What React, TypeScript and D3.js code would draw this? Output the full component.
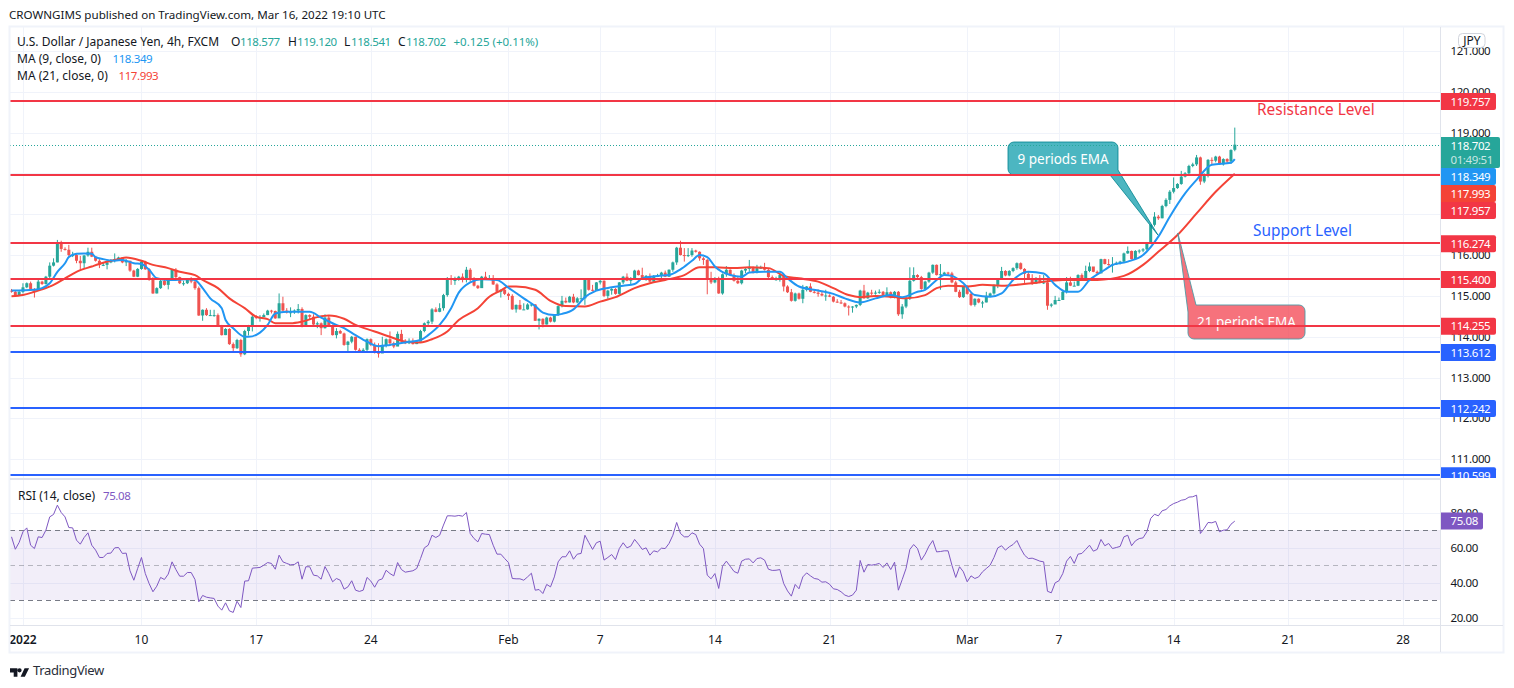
import * as d3 from "d3";

const WIDTH = 1514;
const HEIGHT = 688;
const FONT = "'Noto Sans', sans-serif";

// first open, then closes / highs / lows for each 4h bar
const firstOpen = 115.13;
const lastOpen = 118.577;
const closes = [
  115.10,115.02,115.10,115.21,115.31,115.17,115.13,115.35,115.29,115.47,
  115.74,115.82,116.29,116.15,116.13,116.00,116.00,115.86,115.80,115.99,
  116.08,115.96,115.86,115.76,115.76,115.82,115.86,115.90,115.94,115.82,
  115.86,115.62,115.47,115.66,115.84,115.65,115.39,115.06,115.19,115.37,
  115.27,115.39,115.64,115.46,115.31,115.31,115.39,115.35,115.19,114.52,
  114.66,114.53,114.53,114.53,114.26,114.04,114.19,113.82,113.72,113.92,
  113.57,114.14,114.26,114.49,114.47,114.48,114.53,114.64,114.63,114.45,
  114.82,114.64,114.59,114.60,114.64,114.68,114.25,114.53,114.49,114.30,
  114.33,114.21,114.47,114.26,114.04,114.14,114.08,113.80,113.88,114.00,
  113.68,113.64,113.68,113.94,113.80,113.61,113.59,113.78,113.94,113.84,
  113.76,114.07,113.90,113.84,113.90,113.82,113.88,114.14,114.33,114.37,
  114.67,114.61,114.70,115.02,115.43,115.39,115.39,115.47,115.41,115.64,
  115.41,115.25,115.19,115.47,115.41,115.43,115.28,115.10,115.15,115.05,
  115.00,114.67,114.78,114.67,114.67,114.79,114.79,114.39,114.44,114.30,
  114.47,114.37,114.53,114.75,114.88,114.84,114.98,114.84,114.94,114.94,
  115.39,115.15,115.13,115.33,115.37,115.00,115.13,115.17,115.05,115.33,
  115.47,115.37,115.43,115.62,115.51,115.41,115.49,115.35,115.49,115.49,
  115.57,115.47,115.64,115.82,116.18,116.00,115.98,116.00,116.11,116.08,
  115.92,115.88,115.39,115.33,115.43,115.06,115.53,115.64,115.51,115.37,
  115.31,115.62,115.66,115.70,115.57,115.68,115.69,115.64,115.46,115.41,
  115.41,115.51,115.23,115.09,114.88,115.06,114.93,115.15,115.23,115.10,
  115.08,115.05,115.01,115.01,114.98,114.86,114.84,114.82,114.74,114.72,
  114.74,114.78,115.13,114.94,115.08,115.06,115.08,115.10,114.98,115.09,
  114.96,115.10,114.55,114.74,114.94,115.37,115.51,115.46,115.17,115.35,
  115.57,115.76,115.51,115.53,115.57,115.55,115.33,115.10,114.97,115.23,
  115.05,114.78,114.93,114.84,114.84,115.00,115.06,115.27,115.41,115.61,
  115.50,115.61,115.68,115.80,115.66,115.54,115.43,115.31,115.39,115.33,
  115.33,114.76,114.79,114.90,114.90,115.10,115.33,115.25,115.25,115.51,
  115.41,115.61,115.72,115.59,115.55,115.90,115.78,115.76,115.77,115.81,
  115.84,116.04,116.10,115.90,116.10,116.11,116.14,116.30,116.74,116.94,
  116.90,117.20,117.35,117.55,117.64,117.74,117.92,118.00,118.18,118.22,
  118.39,117.80,117.96,118.33,118.31,118.41,118.22,118.35,118.29,118.57,
  118.702,
];
const highs = [
  115.17,115.12,115.13,115.31,115.33,115.35,115.19,115.39,115.37,115.49,
  115.82,115.92,116.37,116.35,116.19,116.25,116.08,116.04,115.98,116.00,
  116.18,116.18,115.96,115.90,115.82,115.86,115.90,116.04,115.96,115.95,
  115.90,115.86,115.64,115.68,115.86,115.86,115.68,115.46,115.21,115.39,
  115.39,115.41,115.65,115.68,115.47,115.37,115.41,115.46,115.39,115.23,
  114.67,114.70,114.66,114.66,114.57,114.29,114.21,114.21,113.86,113.95,
  113.95,114.17,114.29,114.53,114.53,114.53,114.57,114.66,114.66,114.64,
  115.06,114.98,114.70,114.72,114.67,114.80,114.72,114.55,114.55,114.55,
  114.37,114.35,114.55,114.51,114.30,114.21,114.17,114.10,113.90,114.02,
  114.00,113.72,113.72,113.96,113.96,113.86,113.84,114.00,113.96,114.13,
  113.88,114.13,114.17,113.94,113.96,113.96,113.92,114.17,114.35,114.41,
  114.70,114.72,114.82,115.05,115.46,115.51,115.47,115.49,115.55,115.71,
  115.68,115.46,115.27,115.49,115.59,115.51,115.51,115.31,115.16,115.19,
  115.08,115.04,114.79,114.90,114.82,114.82,114.82,114.80,114.45,114.45,
  114.49,114.49,114.55,114.77,115.00,114.96,115.00,115.05,114.97,115.16,
  115.41,115.41,115.27,115.34,115.39,115.38,115.15,115.19,115.19,115.34,
  115.49,115.55,115.46,115.64,115.64,115.69,115.51,115.55,115.51,115.54,
  115.59,115.62,115.65,115.84,116.20,116.35,116.17,116.17,116.17,116.13,
  116.09,115.95,115.91,115.59,115.46,115.47,115.55,115.73,115.65,115.55,
  115.47,115.64,115.68,115.88,115.72,115.76,115.74,115.81,115.67,115.50,
  115.47,115.55,115.53,115.26,115.17,115.08,115.08,115.27,115.24,115.31,
  115.16,115.16,115.12,115.15,115.04,115.00,114.92,114.90,114.84,114.77,
  114.75,114.79,115.15,115.27,115.10,115.15,115.13,115.16,115.12,115.21,
  115.11,115.12,115.12,114.80,114.98,115.70,115.70,115.53,115.49,115.37,
  115.59,115.77,115.77,115.78,115.59,115.59,115.59,115.37,115.15,115.24,
  115.26,115.08,114.94,114.94,114.88,115.10,115.08,115.28,115.43,115.71,
  115.63,115.63,115.70,115.82,115.82,115.68,115.59,115.53,115.46,115.51,
  115.51,115.44,114.82,115.00,114.96,115.12,115.46,115.47,115.35,115.53,
  115.55,115.74,115.82,115.69,115.62,115.91,115.91,115.90,115.95,115.84,
  115.86,116.06,116.21,116.11,116.12,116.14,116.17,116.32,116.75,117.05,
  116.98,117.23,117.39,117.59,117.90,117.76,118.06,118.03,118.21,118.26,
  118.45,118.41,118.00,118.35,118.39,118.43,118.43,118.37,118.37,118.59,
  119.12,
];
const lows = [
  115.08,115.00,115.01,115.06,115.19,115.15,114.96,115.15,115.27,115.28,
  115.41,115.72,115.82,116.08,116.11,115.96,115.95,115.80,115.64,115.68,
  115.96,115.95,115.84,115.68,115.73,115.65,115.80,115.82,115.86,115.80,
  115.73,115.59,115.46,115.46,115.64,115.64,115.37,115.05,115.06,115.17,
  115.25,115.16,115.37,115.43,115.29,115.25,115.29,115.31,115.15,114.51,
  114.39,114.51,114.51,114.49,114.25,114.03,114.04,113.80,113.65,113.70,
  113.51,113.55,114.03,114.13,114.43,114.37,114.48,114.53,114.57,114.44,
  114.47,114.62,114.57,114.48,114.56,114.57,114.23,114.25,114.41,114.29,
  114.21,114.04,114.20,114.25,114.03,113.96,114.07,113.78,113.65,113.84,
  113.66,113.62,113.62,113.62,113.77,113.59,113.49,113.62,113.74,113.82,
  113.72,113.78,113.89,113.82,113.82,113.81,113.82,113.89,114.11,114.25,
  114.31,114.60,114.60,114.64,114.98,115.27,115.27,115.37,115.33,115.33,
  115.35,115.23,115.17,115.25,115.39,115.39,115.27,115.09,114.96,115.02,
  114.90,114.66,114.59,114.66,114.66,114.66,114.74,114.39,114.18,114.23,
  114.30,114.35,114.35,114.51,114.72,114.82,114.84,114.82,114.82,114.92,
  114.78,115.13,115.11,115.17,115.28,114.97,114.93,115.03,115.03,115.03,
  115.29,115.36,115.28,115.39,115.50,115.39,115.37,115.33,115.33,115.46,
  115.39,115.46,115.47,115.59,115.76,115.99,115.84,115.95,115.96,116.06,
  115.86,115.76,115.04,115.29,115.31,115.05,115.03,115.47,115.50,115.35,
  115.29,115.28,115.56,115.59,115.55,115.55,115.66,115.62,115.44,115.40,
  115.37,115.35,115.11,115.07,114.86,114.86,114.91,114.82,115.11,115.09,
  115.06,114.98,114.99,114.88,114.97,114.84,114.83,114.80,114.72,114.52,
  114.59,114.70,114.75,114.93,114.93,115.01,115.03,115.05,114.97,114.98,
  114.94,114.94,114.51,114.44,114.70,114.90,115.35,115.44,115.15,115.15,
  115.32,115.54,115.50,115.15,115.50,115.50,115.31,115.09,114.95,114.95,
  115.03,114.75,114.74,114.82,114.71,114.84,114.98,115.03,115.19,115.40,
  115.48,115.48,115.58,115.64,115.64,115.31,115.41,115.27,115.29,115.31,
  115.29,114.66,114.72,114.88,114.88,114.90,115.06,115.24,115.24,115.24,
  115.40,115.46,115.58,115.58,115.54,115.57,115.77,115.74,115.57,115.76,
  115.77,115.80,116.03,115.89,115.90,116.04,116.07,116.11,116.27,116.70,
  116.86,116.90,117.17,117.25,117.51,117.62,117.72,117.90,117.96,118.15,
  118.18,117.72,117.76,117.90,118.23,118.27,118.21,118.19,118.23,118.23,
  118.541,
];

const ma9Bars = [0,6,8,10,12,14,15,17,19,21,22,24,27,29,32,34,36,38,41,43,46,48,50,52,55,56,58,61,62,65,67,69,72,75,78,81,84,87,90,93,96,99,103,107,109,112,115,117,120,123,127,130,134,137,139,142,144,147,150,153,157,160,163,165,169,172,175,178,180,182,184,188,191,193,197,201,203,206,211,215,218,222,226,230,233,237,239,242,244,246,249,252,256,259,262,266,270,273,276,279,282,286,288,292,296,300,303,307,310,314,319,320];
const ma9Values = [115.13,115.15,115.19,115.31,115.59,115.80,115.95,116.03,116.04,116.03,115.95,115.90,115.86,115.88,115.80,115.78,115.64,115.43,115.39,115.39,115.41,115.39,115.19,114.94,114.70,114.41,114.21,114.00,114.00,114.10,114.29,114.57,114.61,114.61,114.61,114.47,114.33,114.21,114.04,113.88,113.77,113.80,113.86,113.92,114.04,114.29,114.70,115.08,115.33,115.41,115.39,115.20,114.94,114.75,114.59,114.53,114.56,114.67,114.97,115.13,115.21,115.25,115.29,115.43,115.49,115.51,115.65,115.86,116.00,115.95,115.72,115.51,115.47,115.57,115.59,115.59,115.43,115.23,115.13,115.05,114.94,114.84,114.94,115.02,114.97,115.10,115.15,115.39,115.51,115.49,115.31,115.02,114.98,115.06,115.39,115.59,115.55,115.27,115.10,115.10,115.39,115.64,115.76,115.84,116.00,116.45,116.94,117.51,117.84,118.21,118.26,118.349];
const ma21Bars = [0,3,6,8,11,14,17,21,24,28,30,34,37,41,44,48,50,54,57,61,64,67,69,73,76,80,83,87,90,95,99,103,107,110,114,117,122,125,128,130,132,137,141,145,150,154,158,163,167,171,176,180,184,189,193,198,202,206,211,215,219,222,226,231,234,239,242,245,250,254,259,267,275,284,291,296,300,305,310,315,320];
const ma21Values = [114.99,115.02,115.10,115.16,115.27,115.43,115.59,115.72,115.81,115.90,115.94,115.86,115.76,115.68,115.59,115.51,115.39,115.19,114.94,114.70,114.49,114.43,114.33,114.33,114.37,114.48,114.52,114.44,114.29,114.13,114.00,113.88,113.86,113.94,114.13,114.41,114.70,114.98,115.13,115.23,115.23,115.15,114.88,114.75,114.74,114.86,114.97,115.19,115.31,115.39,115.51,115.70,115.70,115.68,115.70,115.68,115.49,115.43,115.35,115.19,115.02,114.97,115.00,114.97,114.94,115.02,115.19,115.25,115.23,115.27,115.25,115.31,115.39,115.39,115.49,115.76,116.08,116.49,117.02,117.55,117.993];

const rsiValues = [
  66.1,59.0,62.9,69.0,71.2,61.3,59.4,66.1,65.7,69.9,
  77.5,78.9,84.2,80.0,77.5,71.4,71.2,64.2,61.9,65.7,
  68.4,61.3,58.5,54.3,54.3,56.6,56.8,59.8,60.0,56.6,
  56.8,46.7,41.3,48.0,54.3,45.1,39.4,34.7,37.9,42.9,
  41.7,44.8,51.8,47.4,43.6,43.6,45.7,45.7,41.7,29.0,
  32.6,31.6,31.2,30.9,26.5,24.2,28.4,23.8,22.9,29.3,
  25.7,40.8,41.0,48.2,48.4,48.6,49.9,51.4,50.9,47.6,
  55.6,51.8,50.9,50.1,50.3,51.8,41.9,49.0,49.0,44.2,
  43.8,41.9,49.1,45.1,40.4,42.3,41.3,36.2,37.5,41.0,
  35.6,34.9,35.6,42.9,40.8,37.3,41.3,42.1,47.0,45.1,
  43.8,51.4,47.4,45.9,46.3,46.7,48.0,53.7,59.8,61.3,
  67.0,65.7,67.0,72.8,78.1,78.1,77.9,78.3,77.9,80.0,
  68.0,65.1,63.2,68.0,67.6,67.4,61.3,56.2,56.2,53.7,
  51.4,42.3,42.1,42.1,41.3,43.2,45.3,35.6,36.0,33.7,
  38.9,37.5,43.2,51.8,54.7,54.7,58.1,53.3,56.2,56.6,
  67.0,62.9,58.9,62.7,63.6,52.8,54.3,56.0,53.1,59.4,
  62.7,59.8,60.8,64.6,61.9,58.9,59.8,55.6,58.1,57.5,
  59.6,59.4,62.3,67.0,74.3,68.0,66.1,66.1,68.4,67.4,
  61.9,59.4,44.2,42.1,45.1,36.6,49.3,52.2,49.3,46.3,
  45.3,52.2,53.3,53.5,51.2,53.7,54.1,52.8,47.6,46.9,
  47.0,47.4,39.4,35.2,32.2,38.9,36.4,43.2,45.5,43.8,
  42.3,41.9,40.2,40.4,39.0,36.4,36.0,34.7,32.8,32.0,
  32.8,35.6,52.6,45.9,50.3,49.9,50.3,50.9,48.6,51.2,
  47.4,51.6,35.6,41.7,48.0,58.9,61.7,59.4,52.8,56.2,
  60.8,64.0,57.5,57.7,58.1,58.1,49.9,42.9,49.0,46.1,
  40.4,43.8,42.3,43.2,46.1,48.0,49.9,54.3,59.8,61.0,
  58.5,60.4,61.7,64.0,59.4,55.6,53.7,53.9,53.1,52.2,
  51.8,35.0,34.1,39.8,41.0,45.1,52.2,54.9,50.9,56.2,
  56.6,58.9,61.3,57.9,58.9,64.6,61.0,62.3,59.4,60.0,
  60.6,66.1,67.0,61.0,63.8,65.1,65.5,69.0,76.6,79.0,
  78.1,81.0,81.7,83.8,85.1,85.9,87.0,87.4,88.8,89.0,
  89.9,68.0,70.9,74.3,74.1,74.9,69.0,69.9,70.1,73.3,
  75.08,
];

const timeTickLabels = ["2022", "10", "17", "24", "Feb", "7", "14", "21", "Mar", "7", "14", "21", "28"];
const timeTickBars = [3, 34, 64, 94, 130, 154, 184, 214, 250, 274, 304, 334, 364];
const priceTicks = [121, 120, 119, 118, 117, 116, 115, 114, 113, 112, 111];
const rsiTicks = [80, 60, 40, 20];

const redLevels = [119.757, 117.957, 116.274, 115.4, 114.255];
const blueLevels = [113.612, 112.242, 110.599];

const RED = "#f23645";
const BLUE = "#2962ff";
const UP = "#26a69a";
const DOWN = "#ef5350";
const MA9 = "#2196f3";
const MA21 = "#f44336";
const PURPLE = "#7e57c2";
const GRID = "#f0f3fa";
const BORDER = "#e0e3eb";
const INK = "#131722";

const LEFT = 10;
const AXIS_X = 1440;
const RIGHT = 1503;
const MAIN_TOP = 27;
const MAIN_BOTTOM = 480;
const RSI_BOTTOM = 625;
const FRAME_BOTTOM = 652;
const LABEL_PAD = 10.5;

const x = d3.scaleLinear().domain([0, 364]).range([11.5, 1403]);
const y = d3.scaleLinear().domain([119, 111]).range([132.5, 459.3]);
const yRsi = d3.scaleLinear().domain([80, 20]).range([512.5, 617.5]);

// snap thin lines to the pixel grid
const crisp = (v: number) => Math.round(v) + 0.5;

const opens = closes.map((c, i) => (i === 0 ? firstOpen : i === closes.length - 1 ? lastOpen : closes[i - 1]));

const ma9Line = d3.line<number>()
  .x((_, i) => x(ma9Bars[i]))
  .y((d) => y(d))
  .curve(d3.curveMonotoneX);
const ma21Line = d3.line<number>()
  .x((_, i) => x(ma21Bars[i]))
  .y((d) => y(d))
  .curve(d3.curveMonotoneX);
const rsiLine = d3.line<number>()
  .x((_, i) => x(i))
  .y((d) => yRsi(d));

const NUM = { fontSize: 11.5, letterSpacing: -0.4 };

const Label = ({ yc, h = 17, w = 56, fill, text }: { yc: number; h?: number; w?: number; fill: string; text: string }) => (
  <g>
    <path d={`M${AXIS_X},${yc - h / 2}h${w - 2}a2,2 0 0 1 2,2v${h - 4}a2,2 0 0 1 -2,2h${-(w - 2)}z`} fill={fill} />
    <text x={AXIS_X + LABEL_PAD} y={yc + 4} {...NUM} fill="#fff">{text}</text>
  </g>
);

export default function App() {
  const tip9 = [x(299.9), y(116.49)];
  const tip21 = [x(305.1), y(116.54)];

  return (
    <svg
      width={WIDTH}
      height={HEIGHT}
      style={{ position: "absolute", left: 0, top: 0, display: "block", fontFamily: FONT, background: "#fff" }}
    >
      <defs>
        <clipPath id="main"><rect x={LEFT} y={MAIN_TOP} width={AXIS_X - LEFT} height={MAIN_BOTTOM - MAIN_TOP - 2} /></clipPath>
        <clipPath id="axis"><rect x={AXIS_X} y={MAIN_TOP} width={RIGHT - AXIS_X} height={MAIN_BOTTOM - MAIN_TOP - 2} /></clipPath>
      </defs>

      <text x={9} y={19} fontSize={11.6} fill={INK}>CROWNGIMS published on TradingView.com, Mar 16, 2022 19:10 UTC</text>

      {/* grid */}
      {priceTicks.map((t) => (
        <line key={t} x1={LEFT} x2={AXIS_X} y1={crisp(y(t))} y2={crisp(y(t))} stroke={GRID} />
      ))}
      {rsiTicks.map((t) => (
        <line key={t} x1={LEFT} x2={AXIS_X} y1={crisp(yRsi(t))} y2={crisp(yRsi(t))} stroke={GRID} />
      ))}
      {timeTickBars.map((b) => (
        <line key={b} x1={crisp(x(b))} x2={crisp(x(b))} y1={MAIN_TOP} y2={RSI_BOTTOM} stroke={GRID} />
      ))}

      {/* rsi band */}
      <rect x={LEFT} width={AXIS_X - LEFT} y={yRsi(70)} height={yRsi(30) - yRsi(70)} fill={PURPLE} fillOpacity={0.1} />
      <line x1={LEFT} x2={AXIS_X} y1={crisp(yRsi(70))} y2={crisp(yRsi(70))} stroke="#787b86" strokeDasharray="5 4" />
      <line x1={LEFT} x2={AXIS_X} y1={crisp(yRsi(50))} y2={crisp(yRsi(50))} stroke="#787b86" strokeOpacity={0.5} strokeDasharray="5 4" />
      <line x1={LEFT} x2={AXIS_X} y1={crisp(yRsi(30))} y2={crisp(yRsi(30))} stroke="#787b86" strokeDasharray="5 4" />
      <path d={rsiLine(rsiValues) || ""} fill="none" stroke={PURPLE} strokeWidth={1} />

      <g clipPath="url(#main)">
        {/* candles */}
        {closes.map((c, i) => {
          const color = c >= opens[i] ? UP : DOWN;
          const top = y(Math.max(c, opens[i]));
          const bottom = y(Math.min(c, opens[i]));
          return (
            <g key={i}>
              <line x1={x(i)} x2={x(i)} y1={y(highs[i])} y2={y(lows[i])} stroke={color} />
              <rect x={x(i) - 1.5} width={3} y={top} height={Math.max(bottom - top, 1)} fill={color} />
            </g>
          );
        })}

        <path d={ma21Line(ma21Values) || ""} fill="none" stroke={MA21} strokeWidth={2} />
        <path d={ma9Line(ma9Values) || ""} fill="none" stroke={MA9} strokeWidth={2} />

        {/* callouts sit under the level lines */}
        <path
          d={`M1014,142H1112a6,6 0 0 1 6,6V170L${tip9[0]},${tip9[1]}L1110,175H1014a6,6 0 0 1 -6,-6V148a6,6 0 0 1 6,-6z`}
          fill="#0097a7" fillOpacity={0.7} stroke="#00838f" strokeOpacity={0.8}
        />
        <text x={1063} y={164} fontSize={13.5} fill="#fff" textAnchor="middle">9 periods EMA</text>
        <path
          d={`M${tip21[0]},${tip21[1]}L1196,305H1299a6,6 0 0 1 6,6V333a6,6 0 0 1 -6,6H1194a6,6 0 0 1 -6,-6V312z`}
          fill="#f23645" fillOpacity={0.7} stroke="#4f9aa5" strokeOpacity={0.9}
        />
        <text x={1246.5} y={327} fontSize={13.5} fill="#fff" textAnchor="middle">21 periods EMA</text>

        {/* levels */}
        {redLevels.map((p) => (
          <line key={p} x1={LEFT} x2={AXIS_X} y1={Math.floor(y(p))} y2={Math.floor(y(p))} stroke={RED} strokeWidth={2} />
        ))}
        {blueLevels.map((p) => (
          <line key={p} x1={LEFT} x2={AXIS_X} y1={Math.floor(y(p))} y2={Math.floor(y(p))} stroke={BLUE} strokeWidth={2} />
        ))}
        <line x1={LEFT} x2={AXIS_X} y1={crisp(y(118.702))} y2={crisp(y(118.702))} stroke={UP} strokeDasharray="1 2" />

        <text x={1257} y={115} fontSize={15.4} fill={RED}>Resistance Level</text>
        <text x={1253} y={236} fontSize={15.4} fill={BLUE}>Support Level</text>
      </g>

      {/* legends */}
      <g fontSize={12} fill={INK}>
        <text x={17} y={46}>U.S. Dollar / Japanese Yen, 4h, FXCM</text>
        <text x={231} y={46}>O</text>
        <text x={240} y={46} {...NUM} fill={UP}>118.577</text>
        <text x={288} y={46}>H</text>
        <text x={297} y={46} {...NUM} fill={UP}>119.120</text>
        <text x={344} y={46}>L</text>
        <text x={351} y={46} {...NUM} fill={UP}>118.541</text>
        <text x={398} y={46}>C</text>
        <text x={406} y={46} {...NUM} fill={UP}>118.702</text>
        <text x={453.5} y={46} fontSize={11.5} fill={UP}>+0.125 (+0.11%)</text>
        <text x={17} y={63}>MA (9, close, 0)</text>
        <text x={112.5} y={63} {...NUM} fill={MA9}>118.349</text>
        <text x={17} y={80}>MA (21, close, 0)</text>
        <text x={118.5} y={80} {...NUM} fill={MA21}>117.993</text>
        <text x={18} y={500}>RSI (14, close)</text>
        <text x={103} y={500} {...NUM} fill={PURPLE}>75.08</text>
      </g>

      {/* price axis */}
      <g clipPath="url(#axis)">
        {priceTicks.map((t) => (
          <text key={t} x={AXIS_X + LABEL_PAD} y={y(t) + 4} {...NUM} fill={INK}>{t.toFixed(3)}</text>
        ))}
        {redLevels.filter((p) => p !== 117.957).map((p) => (
          <Label key={p} yc={y(p)} fill={RED} text={p.toFixed(3)} />
        ))}
        {blueLevels.map((p) => (
          <Label key={p} yc={y(p)} fill={BLUE} text={p.toFixed(3)} />
        ))}
        <Label yc={210.5} fill={RED} text="117.957" />
        <Label yc={193.5} fill={MA21} text="117.993" />
        <Label yc={176.5} fill={MA9} text="118.349" />
        <path d={`M${AXIS_X},137h58a2,2 0 0 1 2,2v27a2,2 0 0 1 -2,2h-58z`} fill={UP} />
        <text x={AXIS_X + LABEL_PAD} y={150} {...NUM} fill="#fff">118.702</text>
        <text x={AXIS_X + LABEL_PAD} y={163.5} {...NUM} fill="#fff" fillOpacity={0.75}>01:49:51</text>
      </g>
      <rect x={1458.5} y={33.5} width={26.5} height={14} rx={4} fill="#fff" stroke="#d1d4dc" />
      <text x={1472} y={44.5} fontSize={12} textAnchor="middle" fill={INK}>JPY</text>

      {/* rsi axis */}
      {rsiTicks.map((t) => (
        <text key={t} x={AXIS_X + LABEL_PAD} y={yRsi(t) + 4} {...NUM} fill={INK}>{t.toFixed(2)}</text>
      ))}
      <path d={`M${AXIS_X},${yRsi(75.08) - 8.5}h41a2,2 0 0 1 2,2v13a2,2 0 0 1 -2,2h-41z`} fill={PURPLE} />
      <text x={AXIS_X + LABEL_PAD} y={yRsi(75.08) + 4} {...NUM} fill="#fff">75.08</text>

      {/* time axis */}
      {timeTickBars.map((b, i) => (
        <text
          key={b}
          x={x(b)}
          y={644}
          fontSize={12}
          textAnchor="middle"
          fontWeight={timeTickLabels[i] === "2022" ? 600 : 400}
          fill={INK}
        >
          {timeTickLabels[i]}
        </text>
      ))}

      {/* frame */}
      <rect x={9.5} y={26.5} width={RIGHT - 9} height={FRAME_BOTTOM - 26} fill="none" stroke={GRID} strokeWidth={2} />
      <line x1={LEFT} x2={AXIS_X} y1={MAIN_BOTTOM - 1} y2={MAIN_BOTTOM - 1} stroke={BORDER} strokeWidth={2} />
      <line x1={LEFT} x2={RIGHT} y1={RSI_BOTTOM + 0.5} y2={RSI_BOTTOM + 0.5} stroke={BORDER} />
      <line x1={AXIS_X + 0.5} x2={AXIS_X + 0.5} y1={MAIN_TOP} y2={FRAME_BOTTOM} stroke={BORDER} />

      {/* logo */}
      <g transform="translate(10,665) scale(0.53)">
        <path d="M14 6H0v8h7v8h7V6Zm14 16h-8l7.5-16H36l-8 16ZM22 10a4 4 0 1 1-8 0 4 4 0 0 1 8 0Z" fill={INK} />
      </g>
      <text x={33} y={675} fontSize={13} letterSpacing={-0.35} fill="#2a2e39">TradingView</text>
    </svg>
  );
}
